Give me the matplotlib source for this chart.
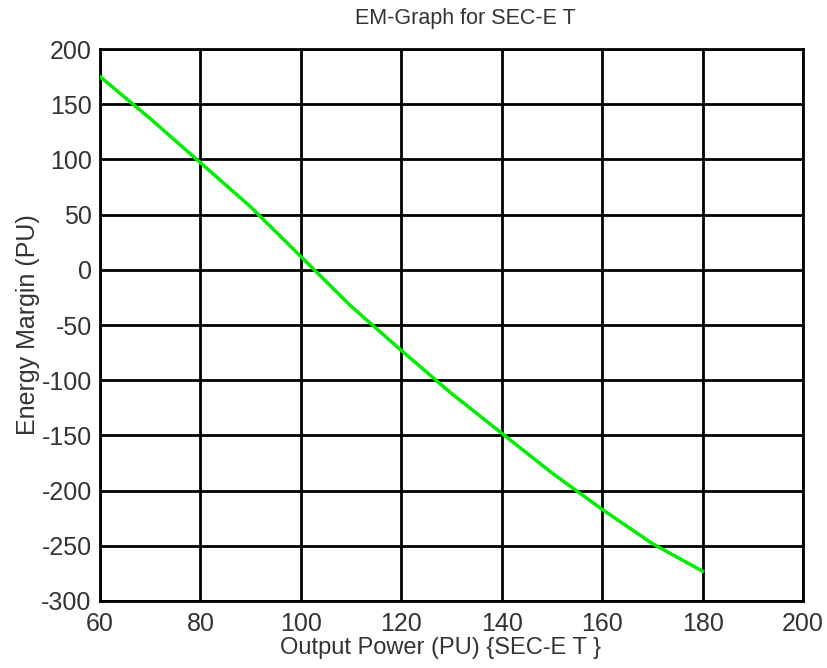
import matplotlib
matplotlib.use('Agg')
import matplotlib.pyplot as plt

# output power (PU) vs energy margin (PU)
power = [60, 70, 80, 90, 100, 110, 120, 130, 140, 150, 160, 170, 180]
margin = [175, 137, 97, 57, 12, -33, -73, -112, -148, -184, -217, -248, -273]

xticks = [60, 80, 100, 120, 140, 160, 180, 200]
yticks = [200, 150, 100, 50, 0, -50, -100, -150, -200, -250, -300]

plt.rcParams['font.family'] = ['Liberation Sans Narrow', 'Liberation Sans', 'DejaVu Sans']
plt.rcParams['axes.unicode_minus'] = False

fig = plt.figure(figsize=(8.28, 6.68), dpi=100)
ax = fig.add_axes([0.1208, 0.1003, 0.849, 0.8263])

ax.plot(power, margin, color='#00ee00', linewidth=2.5, zorder=3)

ax.set_xlim(60, 200)
ax.set_ylim(-300, 200)
ax.set_xticks(xticks)
ax.set_yticks(yticks)
ax.grid(True, color='black', linewidth=2)
for s in ax.spines.values():
    s.set_linewidth(2)
ax.tick_params(length=0, labelsize=18, labelcolor='#333333')
ax.tick_params(axis='x', pad=8)
ax.tick_params(axis='y', pad=6)

ax.set_title('EM-Graph for SEC-E T', fontsize=15.5, color='#333333', pad=18, x=0.52)
ax.set_xlabel('Output Power (PU) {SEC-E T }', fontsize=17, color='#333333', labelpad=1, x=0.485)
ax.set_ylabel('Energy Margin (PU)', fontsize=18, color='#333333', labelpad=1)

fig.savefig('out.png', dpi=100)
